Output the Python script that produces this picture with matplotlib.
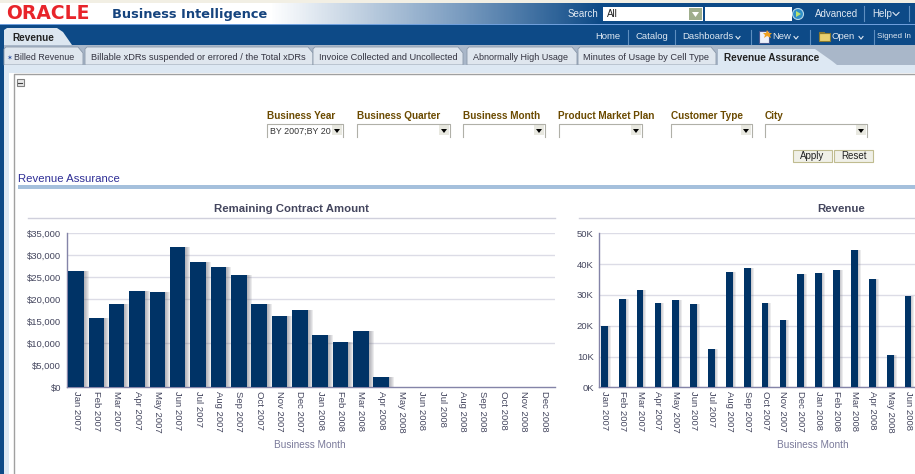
import matplotlib
matplotlib.use('Agg')
import matplotlib.pyplot as plt
import numpy as np
from matplotlib.colors import LinearSegmentedColormap
from matplotlib.patches import Rectangle, Polygon, Circle

W, H = 915, 474

months_left = ['Jan 2007', 'Feb 2007', 'Mar 2007', 'Apr 2007', 'May 2007', 'Jun 2007', 'Jul 2007', 'Aug 2007',
               'Sep 2007', 'Oct 2007', 'Nov 2007', 'Dec 2007', 'Jan 2008', 'Feb 2008', 'Mar 2008', 'Apr 2008',
               'May 2008', 'Jun 2008', 'Jul 2008', 'Aug 2008', 'Sep 2008', 'Oct 2008', 'Nov 2008', 'Dec 2008']
contract_amount = [26440, 15760, 18940, 21900, 21670, 31900, 28480, 27350, 25530, 18940, 16210, 17580,
                   11890, 10300, 12800, 2350]
contract_ticks = [0, 5000, 10000, 15000, 20000, 25000, 30000, 35000]
contract_ticklabels = ['$0', '$5,000', '$10,000', '$15,000', '$20,000', '$25,000', '$30,000', '$35,000']
contract_grid = [10000, 20000, 25000, 30000, 35000]

months_right = months_left[:18]
revenue = [19.9, 28.7, 31.6, 27.4, 28.4, 27.1, 12.4, 37.4, 38.7, 27.4, 21.9, 36.8, 37.1, 38.1, 44.6, 35.2, 10.5, 29.7]
revenue_ticks = [0, 10, 20, 30, 40, 50]
revenue_ticklabels = ['0K', '10K', '20K', '30K', '40K', '50K']

top_links = ['Home', 'Catalog', 'Dashboards', 'New', 'Open', 'Signed In']
tab_names = ['Billed Revenue', 'Billable xDRs suspended or errored / the Total xDRs',
             'Invoice Collected and Uncollected', 'Abnormally High Usage', 'Minutes of Usage by Cell Type']
filter_names = ['Business Year', 'Business Quarter', 'Business Month', 'Product Market Plan', 'Customer Type', 'City']

plt.rcParams['font.family'] = ['Liberation Sans', 'DejaVu Sans']

BLUE = '#0d4a87'
BAR = '#003366'
TEXT = '#44465e'

fig = plt.figure(figsize=(W / 100, H / 100), dpi=100, facecolor='white')

# page furniture is drawn in pixel coordinates on one full size axes
bg = fig.add_axes([0, 0, 1, 1])
bg.set_xlim(0, W)
bg.set_ylim(H, 0)
bg.axis('off')


def box(x0, y0, x1, y1, color, **kw):
    bg.add_patch(Rectangle((x0, y0), x1 - x0, y1 - y0, facecolor=color, edgecolor=kw.pop('edge', 'none'),
                           linewidth=kw.pop('lw', 0.8), **kw))


def label(x, y, s, size=7.5, color=TEXT, weight='normal', ha='left', **kw):
    bg.text(x, y, s, fontsize=size, color=color, fontweight=weight, ha=ha, va='center', **kw)


# header
box(0, 0, W, 3, '#f2efe4')
cmap = LinearSegmentedColormap.from_list('hdr', ['#ffffff', '#7a9cc0', BLUE])
grad = np.interp(np.arange(W), [270, 460, 600], [0, 0.5, 1]).reshape(1, -1)
bg.imshow(grad, cmap=cmap, extent=(0, W, 24, 3), aspect='auto', zorder=0)
bg.set_xlim(0, W)
bg.set_ylim(H, 0)
box(0, 24, W, 25, '#6f9fdc')
box(0, 25, W, 45, BLUE)
label(6, 13.5, 'ORACLE', size=13.5, color='#e8242a', weight='bold', family='DejaVu Sans')
label(112, 14, 'Business Intelligence', size=9.4, color='#16447e', weight='bold', family='DejaVu Sans')

# search row
label(568, 14, 'Search', color='#dfe8f2', size=7)
box(603, 7, 703, 21, 'white')
label(607, 14, 'All', color='#222222', size=7)
box(689, 8, 702, 20, '#9fae8c')
bg.add_patch(Polygon([[692, 12], [699, 12], [695.5, 17]], facecolor='white'))
box(705, 7, 792, 21, 'white')
bg.add_patch(Circle((798, 14), 5.5, facecolor='#2f8fc8', edgecolor='#b8d8ea', lw=0.8))
bg.add_patch(Polygon([[796, 11], [796, 17], [801, 14]], facecolor='#b8e070'))
label(815, 14, 'Advanced', color='#dfe8f2', size=7)
label(872, 14, 'Help', color='#dfe8f2', size=7)
bg.plot([893, 896, 899], [12.5, 15.5, 12.5], color='#dfe8f2', lw=0.8)
for x in [864, 909]:
    bg.plot([x, x], [6, 21], color='#5f8fc0', lw=0.8)

# nav row
for x, s in zip([595, 635, 682, 772, 832, 877], top_links):
    label(x, 36.5, s, color='#dfe8f2', size=5.8 if s == 'Signed In' else 6.8)
for x in [628, 675, 751, 810, 874]:
    bg.plot([x, x], [30, 44], color='#5f8fc0', lw=0.8)
for x in [738, 796, 861]:
    bg.plot([x - 2, x, x + 2], [36.5, 39, 36.5], color='#dfe8f2', lw=0.8)
box(759, 31, 769, 43, '#eef0fa', edge='#4a5a90')
bg.add_patch(Polygon([[767, 30], [769, 33], [772, 33], [770, 35], [771, 38], [767, 36], [764, 38], [765, 35],
                      [763, 33], [766, 33]], facecolor='#f0a020'))
box(819, 33, 830, 41, '#e8d070', edge='#8a7a30')
box(819, 31.5, 824, 33, '#e8d070', edge='#8a7a30')

# Revenue tab
bg.add_patch(Polygon([[4, 45], [4, 30], [7, 28], [57, 28], [63, 32], [72, 45]], facecolor='#dce6f0'))
label(12, 38, 'Revenue', color='#222222', size=7.2, weight='bold')

# second row of tabs
box(0, 45, W, 65, '#a9b7c9')
box(0, 45, 4, H, BLUE)
for x0, x1 in [(4, 83), (85, 313), (313, 463), (467, 577), (578, 716)]:
    bg.add_patch(Polygon([[x0, 65], [x0, 49], [x0 + 2, 47], [x1 - 5, 47], [x1, 53], [x1, 65]], facecolor='#dfe6ee',
                         edgecolor='#8a98aa', lw=0.6))
for x, s, size in zip([14, 91, 319, 473, 583], tab_names, [6.4, 6.7, 6.6, 6.5, 6.7]):
    label(x, 57.5, s, color='#333340', size=size)
label(6, 58, '\u2736', color='#2a4ea0', size=5, family='DejaVu Sans')
bg.add_patch(Polygon([[718, 69], [718, 49], [720, 49], [815, 49], [832, 61], [837, 65], [837, 69]], facecolor='#dde8f3'))
label(724, 57.5, 'Revenue Assurance', color='#222222', size=7.2, weight='bold')
box(4, 65, W, 73, '#dde8f3')
box(4, 65, 9, H, '#dde8f3')
box(9, 73, W, H, 'white')
bg.plot([13.5, 13.5, W], [H, 73.5, 73.5], color='#a0a0a0', lw=1)

# collapse icon
box(16.5, 79, 23.5, 86, '#e8e8e8', edge='#808080')
bg.plot([18, 22], [82.5, 82.5], color='#404040', lw=0.8)

# filters
for x, s in zip([267, 357, 463, 558, 671, 765], filter_names):
    label(x, 116, s, color='#6b4a00', size=7.2, weight='bold')
for x0, x1 in [(267, 343), (357, 450), (463, 545), (559, 642), (671, 752), (765, 867)]:
    bg.plot([x0, x0, x1, x1], [137, 123.5, 123.5, 137], color='#b0b0a8', lw=0.8)
    box(x1 - 11, 125, x1 - 1, 135, '#e8e8e0')
    bg.add_patch(Polygon([[x1 - 9, 129], [x1 - 3, 129], [x1 - 6, 133]], facecolor='black'))
label(270, 131, 'BY 2007;BY 20', color='#333333', size=6.4)
for x0, x1, s in [(793, 832, 'Apply'), (834, 873, 'Reset')]:
    box(x0, 149.5, x1, 162, '#f0f0e8', edge='#c0bc90')
    label((x0 + x1) / 2, 156, s, color='#222222', size=7, ha='center')

label(18, 179, 'Revenue Assurance', color='#2f2f96', size=8.2)
box(18, 185, W, 189, '#a5c0dc')

# chart titles and the rules under them
label(292, 208.5, 'Remaining Contract Amount', size=8.2, weight='bold', ha='center')
label(841, 208.5, 'Revenue', size=8.2, weight='bold', ha='center')
bg.plot([28, 555], [217.5, 217.5], color='#d0d0dc', lw=1)
bg.plot([579, W], [217.5, 217.5], color='#d0d0dc', lw=1)
label(310, 445, 'Business Month', size=7.2, color='#7a7a9a', ha='center')
label(813, 445, 'Business Month', size=7.2, color='#7a7a9a', ha='center')


def chart_axes(x0, x1, y0=233.3, y1=387.3):
    ax = fig.add_axes([x0 / W, 1 - y1 / H, (x1 - x0) / W, (y1 - y0) / H])
    ax.patch.set_alpha(0)
    for side in ['top', 'right']:
        ax.spines[side].set_visible(False)
    for side in ['left', 'bottom']:
        ax.spines[side].set_color('#8484a8')
        ax.spines[side].set_linewidth(1)
    ax.tick_params(length=0, labelsize=6.8, labelcolor=TEXT)
    ax.tick_params(axis='x', pad=2.5)
    ax.tick_params(axis='y', pad=4)
    ax.set_axisbelow(True)
    return ax


def bars_with_shadow(ax, values, width, shadow_px, px_per_cat):
    x = np.arange(len(values))
    for i in range(1, shadow_px + 1):
        ax.bar(x + i / px_per_cat, values, width=width, color='#70707a', alpha=0.13, linewidth=0, zorder=2)
    ax.bar(x, values, width=width, color=BAR, linewidth=0, zorder=3)


# left chart
ax1 = chart_axes(66.5, 555)
bars_with_shadow(ax1, contract_amount, 0.76, 5, 20.35)
ax1.set_xlim(-0.467, 23.54)
ax1.set_ylim(0, 35000)
ax1.set_yticks(contract_ticks, contract_ticklabels)
ax1.set_xticks(range(len(months_left)), months_left, rotation=270)
ax1.hlines(contract_grid, -0.467, 23.54, color='#dcdce6', lw=1, zorder=1)

# right chart, runs off the edge of the page
ax2 = chart_axes(599.3, W)
bars_with_shadow(ax2, revenue, 0.38, 3, 17.87)
ax2.set_xlim(-0.28, 17.39)
ax2.set_ylim(0, 50)
ax2.set_yticks(revenue_ticks, revenue_ticklabels)
ax2.set_xticks(range(len(months_right)), months_right, rotation=270)
ax2.yaxis.grid(True, color='#dcdce6', lw=1, zorder=1)

fig.savefig('out.png', dpi=100)
